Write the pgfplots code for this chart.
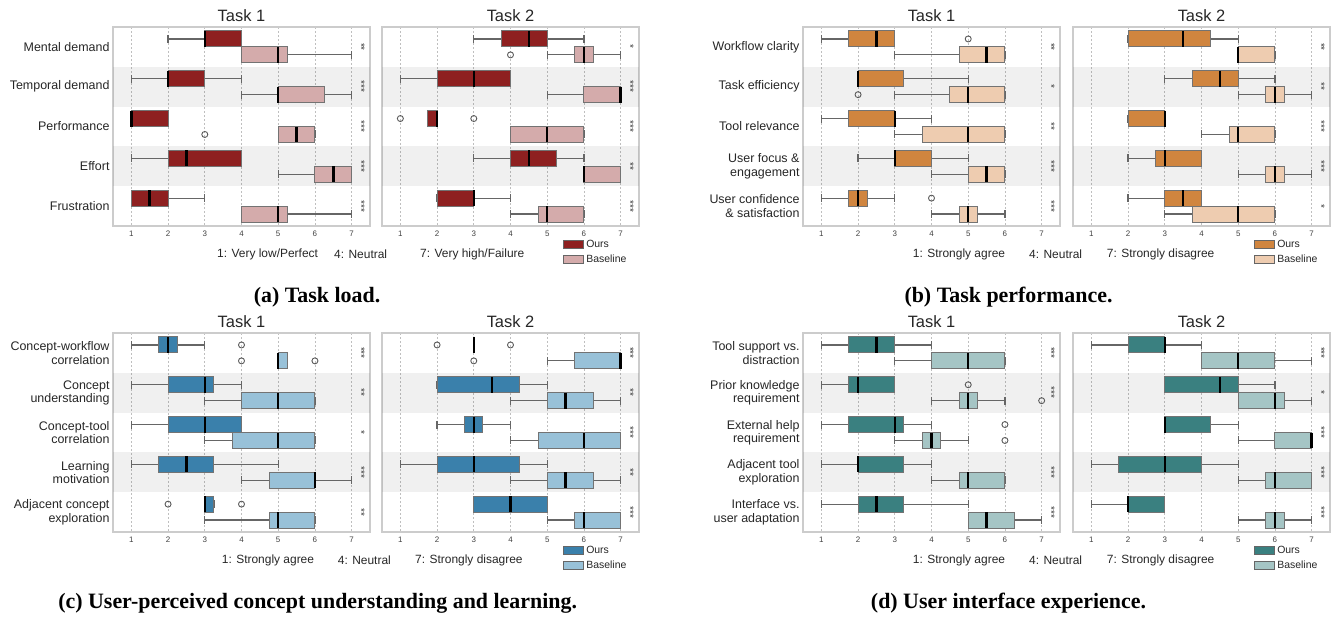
\documentclass[border=0pt]{standalone}
\usepackage{fontspec}
\setmainfont{Liberation Sans}
\newfontfamily\capfont{Liberation Serif}
\usepackage{pgfplots}
\pgfplotsset{compat=1.18}
\usepgfplotslibrary{statistics}

\definecolor{aO}{HTML}{8E2020}\definecolor{aB}{HTML}{D4ABAB}
\definecolor{bO}{HTML}{D0853F}\definecolor{bB}{HTML}{EECCB0}
\definecolor{cO}{HTML}{3A80AB}\definecolor{cB}{HTML}{98C1D8}
\definecolor{dO}{HTML}{3A8080}\definecolor{dB}{HTML}{A5C5C5}
\colorlet{ocol}{aO}\colorlet{bcol}{aB}

\pgfplotsset{
 likert/.style={
  scale only axis, width=257bp, height=199bp,
  xmin=0.5, xmax=7.5, ymin=-0.5, ymax=4.5, y dir=reverse,
  xtick={1,...,7}, ytick={0,...,4},
  major tick length=0pt,
  xmajorgrids,
  grid style={draw=black!25, dash pattern=on 2.2bp off 1.8bp, line width=0.6bp},
  axis line style={draw=black!20, line width=1.1bp},
  /pgf/number format/assume math mode=true,
  xticklabel style={font=\fontsize{8}{9}\selectfont, text=black!75, yshift=-1bp},
  yticklabel style={font=\fontsize{12.5}{13.5}\selectfont, text=black!85, align=right},
  title style={font=\fontsize{16.5}{18}\selectfont, text=black!85, at={(0.5,1)}, anchor=base},
  clip=false,
 },
 t2/.style={ytick=\empty,
  legend style={at={(axis description cs:0.705,-0.06)}, anchor=north west, draw=none, fill=none,
   font=\fontsize{10.5}{11.5}\selectfont, text=black!85, row sep=1.5bp, inner sep=0pt},
  legend cell align=left},
 oursbox/.style={forget plot, draw=black!60, line width=1bp, solid, mark=o, mark size=3bp,
   mark options={draw=black!65, line width=0.9bp, fill=none},
   boxplot/box extend=0.4, boxplot/whisker extend=0.2,
   boxplot/every box/.style={fill=ocol, draw=black!55, line width=1bp},
   boxplot/every median/.style={draw=black, line width=2.5bp, fill=none},
   boxplot/every whisker/.style={draw=black!60, line width=1.2bp, fill=none}},
 basebox/.style={oursbox, boxplot/every box/.style={fill=bcol, draw=black!55, line width=1bp}},
}

\newcommand{\bxo}[7]{\addplot[oursbox, boxplot prepared={draw position=#1-0.2, lower whisker=#2, lower quartile=#3, median=#4, upper quartile=#5, upper whisker=#6}] coordinates {#7};}
\newcommand{\bxb}[7]{\addplot[basebox, boxplot prepared={draw position=#1+0.2, lower whisker=#2, lower quartile=#3, median=#4, upper quartile=#5, upper whisker=#6}] coordinates {#7};}
\newcommand{\bands}{\fill[black, fill opacity=0.06] (axis cs:0.5,0.5) rectangle (axis cs:7.5,1.5);
  \fill[black, fill opacity=0.06] (axis cs:0.5,2.5) rectangle (axis cs:7.5,3.5);}
\newcommand{\st}[2]{\node[rotate=-90, font=\fontsize{10}{10}\selectfont, text=black!80, inner sep=0pt] at (axis cs:7.26,#1) {#2};}
\newcommand{\leg}{%
  \addlegendimage{legend image code/.code={\draw[draw=black!60, line width=0.9bp, fill=ocol] (0bp,-4bp) rectangle (20bp,4bp);}}
  \addlegendentry{Ours}
  \addlegendimage{legend image code/.code={\draw[draw=black!60, line width=0.9bp, fill=bcol] (0bp,-4bp) rectangle (20bp,4bp);}}
  \addlegendentry{Baseline}}

\begin{document}
\begin{tikzpicture}
\path[use as bounding box] (0bp,0bp) rectangle (1335bp,-617bp);

%%%%%%%%%%%%%%%% (a) Task load
\colorlet{ocol}{aO}\colorlet{bcol}{aB}
\begin{axis}[likert, at={(113bp,-27bp)}, anchor=north west, title={Task 1},
  yticklabels={Mental demand, Temporal demand, Performance, Effort, Frustration}]
\bands
\bxo{0}{2}{3}{3}{4}{4}{} \bxb{0}{4}{4}{5}{5.25}{7}{}
\bxo{1}{1}{2}{2}{3}{4}{} \bxb{1}{4}{5}{5}{6.25}{7}{}
\bxo{2}{1}{1}{1}{2}{2}{} \bxb{2}{5}{5}{5.5}{6}{6}{(0,3)}
\bxo{3}{1}{2}{2.5}{4}{4}{} \bxb{3}{5}{6}{6.5}{7}{7}{}
\bxo{4}{1}{1}{1.5}{2}{3}{} \bxb{4}{4}{4}{5}{5.25}{7}{}
\st{0}{**}\st{1}{***}\st{2}{***}\st{3}{***}\st{4}{***}
\end{axis}
\begin{axis}[likert, t2, at={(382bp,-27bp)}, anchor=north west, title={Task 2}]
\leg
\bands
\bxo{0}{3}{3.75}{4.5}{5}{6}{} \bxb{0}{5}{5.75}{6}{6.25}{7}{(0,4)}
\bxo{1}{1}{2}{3}{4}{4}{} \bxb{1}{5}{6}{7}{7}{7}{}
\bxo{2}{1.75}{1.75}{2}{2}{2}{(0,1) (0,3)} \bxb{2}{4}{4}{5}{6}{6}{}
\bxo{3}{3}{4}{4.5}{5.25}{6}{} \bxb{3}{6}{6}{6}{7}{7}{}
\bxo{4}{2}{2}{3}{3}{4}{} \bxb{4}{4}{4.75}{5}{6}{6}{}
\st{0}{*}\st{1}{***}\st{2}{***}\st{3}{**}\st{4}{***}
\end{axis}

%%%%%%%%%%%%%%%% (b) Task performance
\colorlet{ocol}{bO}\colorlet{bcol}{bB}
\begin{axis}[likert, at={(803bp,-27bp)}, anchor=north west, title={Task 1},
  yticklabels={Workflow clarity, Task efficiency, Tool relevance, {User focus \&\\engagement}, {User confidence\\\& satisfaction}}]
\bands
\bxo{0}{1}{1.75}{2.5}{3}{3}{(0,5)} \bxb{0}{3}{4.75}{5.5}{6}{6}{}
\bxo{1}{2}{2}{2}{3.25}{5}{} \bxb{1}{3}{4.5}{5}{6}{6}{(0,2)}
\bxo{2}{1}{1.75}{3}{3}{4}{} \bxb{2}{3}{3.75}{5}{6}{6}{}
\bxo{3}{2}{3}{3}{4}{5}{} \bxb{3}{4}{5}{5.5}{6}{6}{}
\bxo{4}{1}{1.75}{2}{2.25}{3}{(0,4)} \bxb{4}{4}{4.75}{5}{5.25}{6}{}
\st{0}{**}\st{1}{*}\st{2}{**}\st{3}{***}\st{4}{***}
\end{axis}
\begin{axis}[likert, t2, at={(1073bp,-27bp)}, anchor=north west, title={Task 2}]
\leg
\bands
\bxo{0}{2}{2}{3.5}{4.25}{5}{} \bxb{0}{5}{5}{5}{6}{6}{}
\bxo{1}{3}{3.75}{4.5}{5}{6}{} \bxb{1}{5}{5.75}{6}{6.25}{7}{}
\bxo{2}{2}{2}{3}{3}{3}{} \bxb{2}{4}{4.75}{5}{6}{6}{}
\bxo{3}{2}{2.75}{3}{4}{4}{} \bxb{3}{5}{5.75}{6}{6.25}{7}{}
\bxo{4}{2}{3}{3.5}{4}{4}{} \bxb{4}{3}{3.75}{5}{6}{6}{}
\st{0}{**}\st{1}{**}\st{2}{***}\st{3}{***}\st{4}{*}
\end{axis}

%%%%%%%%%%%%%%%% (c) Concept understanding
\colorlet{ocol}{cO}\colorlet{bcol}{cB}
\begin{axis}[likert, at={(113bp,-333bp)}, anchor=north west, title={Task 1},
  yticklabels={{Concept-workflow\\correlation}, {Concept\\understanding}, {Concept-tool\\correlation}, {Learning\\motivation}, {Adjacent concept\\exploration}}]
\bands
\bxo{0}{1}{1.75}{2}{2.25}{3}{(0,4)} \bxb{0}{5}{5}{5}{5.25}{5.25}{(0,4) (0,6)}
\bxo{1}{1}{2}{3}{3.25}{4}{} \bxb{1}{3}{4}{5}{6}{6}{}
\bxo{2}{1}{2}{3}{4}{4}{} \bxb{2}{3}{3.75}{5}{6}{6}{}
\bxo{3}{1}{1.75}{2.5}{3.25}{5}{} \bxb{3}{4}{4.75}{6}{6}{7}{}
\bxo{4}{3}{3}{3}{3.25}{3.25}{(0,2) (0,4)} \bxb{4}{3}{4.75}{5}{6}{6}{}
\st{0}{***}\st{1}{**}\st{2}{*}\st{3}{***}\st{4}{**}
\end{axis}
\begin{axis}[likert, t2, at={(382bp,-333bp)}, anchor=north west, title={Task 2}]
\leg
\bands
\bxo{0}{3}{3}{3}{3}{3}{(0,2) (0,4)} \bxb{0}{5}{5.75}{7}{7}{7}{(0,3)}
\bxo{1}{2}{2}{3.5}{4.25}{5}{} \bxb{1}{4}{5}{5.5}{6.25}{7}{}
\bxo{2}{2}{2.75}{3}{3.25}{4}{} \bxb{2}{4}{4.75}{6}{7}{7}{}
\bxo{3}{1}{2}{3}{4.25}{5}{} \bxb{3}{4}{5}{5.5}{6.25}{7}{}
\bxo{4}{3}{3}{4}{5}{5}{} \bxb{4}{5}{5.75}{6}{7}{7}{}
\st{0}{***}\st{1}{**}\st{2}{***}\st{3}{**}\st{4}{***}
\end{axis}

%%%%%%%%%%%%%%%% (d) User interface experience
\colorlet{ocol}{dO}\colorlet{bcol}{dB}
\begin{axis}[likert, at={(803bp,-333bp)}, anchor=north west, title={Task 1},
  yticklabels={{Tool support vs.\\distraction}, {Prior knowledge\\requirement}, {External help\\requirement}, {Adjacent tool\\exploration}, {Interface vs.\\user adaptation}}]
\bands
\bxo{0}{1}{1.75}{2.5}{3}{4}{} \bxb{0}{3}{4}{5}{6}{6}{}
\bxo{1}{1}{1.75}{2}{3}{3}{(0,5)} \bxb{1}{4}{4.75}{5}{5.25}{6}{(0,7)}
\bxo{2}{1}{1.75}{3}{3.25}{4}{(0,6)} \bxb{2}{3}{3.75}{4}{4.25}{5}{(0,6)}
\bxo{3}{1}{2}{2}{3.25}{4}{} \bxb{3}{4}{4.75}{5}{6}{6}{}
\bxo{4}{1}{2}{2.5}{3.25}{5}{} \bxb{4}{5}{5}{5.5}{6.25}{7}{}
\st{0}{***}\st{1}{***}\st{3}{***}\st{4}{***}
\end{axis}
\begin{axis}[likert, t2, at={(1073bp,-333bp)}, anchor=north west, title={Task 2}]
\leg
\bands
\bxo{0}{1}{2}{3}{3}{4}{} \bxb{0}{4}{4}{5}{6}{7}{}
\bxo{1}{3}{3}{4.5}{5}{6}{} \bxb{1}{5}{5}{6}{6.25}{7}{}
\bxo{2}{3}{3}{3}{4.25}{5}{} \bxb{2}{5}{6}{7}{7}{7}{}
\bxo{3}{1}{1.75}{3}{4}{5}{} \bxb{3}{5}{5.75}{6}{7}{7}{}
\bxo{4}{1}{2}{2}{3}{3}{} \bxb{4}{5}{5.75}{6}{6.25}{7}{}
\st{0}{***}\st{1}{*}\st{2}{***}\st{3}{***}\st{4}{***}
\end{axis}

%%%%%%%%%%%%%%%% scale texts and captions
\begin{scope}[every node/.style={anchor=west, font=\fontsize{12}{14}\selectfont, text=black!85, inner sep=0pt}]
\node at (217bp,-254bp) {1: Very low/Perfect};
\node at (334bp,-254bp) {4: Neutral};
\node at (420bp,-254bp) {7: Very high/Failure};
\node at (912.7bp,-254bp) {1: Strongly agree};
\node at (1029bp,-254bp) {4: Neutral};
\node at (1106.7bp,-254bp) {7: Strongly disagree};
\node at (221.7bp,-560bp) {1: Strongly agree};
\node at (337.7bp,-560bp) {4: Neutral};
\node at (415bp,-560bp) {7: Strongly disagree};
\node at (912.7bp,-560bp) {1: Strongly agree};
\node at (1029bp,-560bp) {4: Neutral};
\node at (1106.7bp,-560bp) {7: Strongly disagree};
\end{scope}
\begin{scope}[every node/.style={anchor=base, font=\capfont\bfseries\fontsize{22}{24}\selectfont, inner sep=0pt}]
\node at (317bp,-302bp) {(a) Task load.};
\node at (1008.5bp,-302bp) {(b) Task performance.};
\node at (317.7bp,-608bp) {(c) User-perceived concept understanding and learning.};
\node at (1008.5bp,-608bp) {(d) User interface experience.};
\end{scope}
\end{tikzpicture}
\end{document}
